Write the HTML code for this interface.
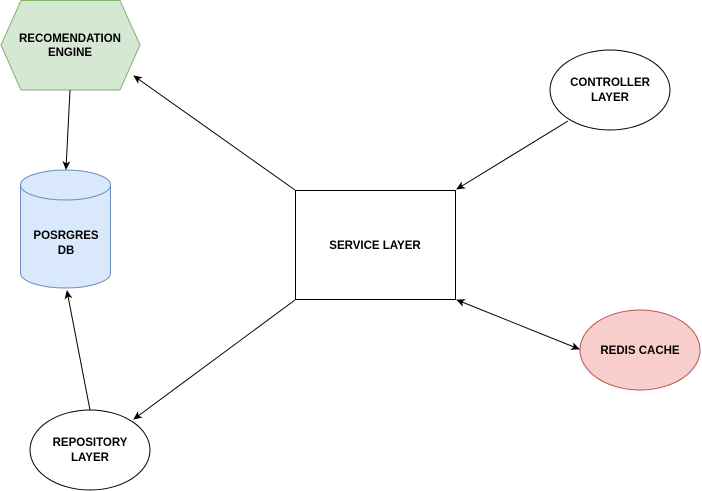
<!DOCTYPE html>
<html><head><style>body{margin:0;background:#fff}svg{display:block}text{font-family:"Liberation Sans",Arial,sans-serif;font-size:11.5px;font-weight:bold;fill:#000}</style></head>
<body>
<svg width="702" height="491" viewBox="0 0 702 491" xmlns="http://www.w3.org/2000/svg">
<defs><marker id="a" markerWidth="10" markerHeight="10" refX="8" refY="4" orient="auto-start-reverse" markerUnits="userSpaceOnUse"><path d="M0,0 L9,4 L0,8 L2.5,4 Z" fill="#000"/></marker></defs>
<polygon points="21,0.5 120,0.5 140,45 120,90 21,90 1,45" fill="#d5e8d4" stroke="#82b366"/>
<text x="70" y="42" text-anchor="middle">RECOMENDATION</text>
<text x="70" y="56" text-anchor="middle">ENGINE</text>
<path d="M20.5,185 A45,15 0 0 1 110.5,185 L110.5,273 A45,15 0 0 1 20.5,273 Z" fill="#dae8fc" stroke="#6c8ebf"/>
<path d="M20.5,185 A45,15 0 0 0 110.5,185" fill="none" stroke="#6c8ebf"/>
<text x="66" y="239" text-anchor="middle">POSRGRES</text>
<text x="66" y="254" text-anchor="middle">DB</text>
<rect x="295.5" y="190.5" width="160" height="109" fill="#fff" stroke="#000"/>
<text x="375" y="249" text-anchor="middle">SERVICE LAYER</text>
<ellipse cx="610" cy="90" rx="60" ry="40" fill="#fff" stroke="#000"/>
<text x="610" y="86" text-anchor="middle">CONTROLLER</text>
<text x="610" y="101" text-anchor="middle">LAYER</text>
<ellipse cx="640" cy="350" rx="60" ry="40" fill="#f8cecc" stroke="#b85450"/>
<text x="640" y="354" text-anchor="middle">REDIS  CACHE</text>
<ellipse cx="90" cy="450" rx="60" ry="40" fill="#fff" stroke="#000"/>
<text x="90" y="446" text-anchor="middle">REPOSITORY</text>
<text x="90" y="461" text-anchor="middle">LAYER</text>
<g stroke="#000" fill="none">
<line x1="295" y1="190" x2="134" y2="76" marker-end="url(#a)"/>
<line x1="70" y1="90" x2="66" y2="169" marker-end="url(#a)"/>
<line x1="568" y1="121" x2="457" y2="189" marker-end="url(#a)"/>
<line x1="457" y1="300" x2="579" y2="349" marker-start="url(#a)" marker-end="url(#a)"/>
<line x1="295" y1="300" x2="134" y2="419" marker-end="url(#a)"/>
<line x1="90" y1="410" x2="67" y2="291" marker-end="url(#a)"/>
</g>
</svg>
</body></html>
